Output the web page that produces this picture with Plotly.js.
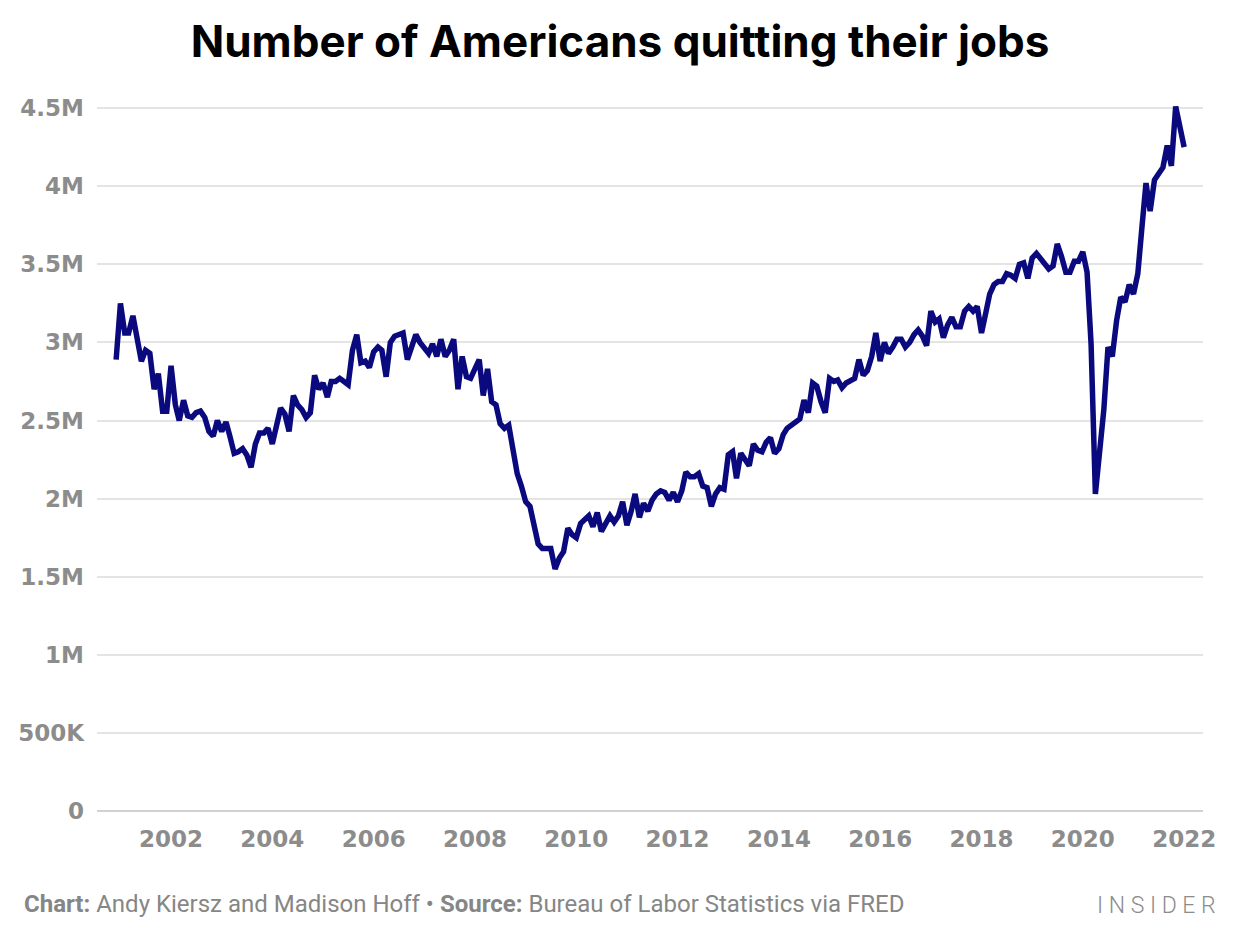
<!DOCTYPE html>
<html>
<head>
<meta charset="utf-8">
<script src="https://cdn.plot.ly/plotly-3.0.1.min.js"></script>
<style>
  html, body { margin: 0; padding: 0; background: #fff; }
  #chart { width: 1240px; height: 940px; }
</style>
</head>
<body>
<div id="chart"></div>
<script>
// === DATA ===
// monthly quits, seasonally adjusted, millions (Dec 2000 .. Jan 2022)
const startYear = 2000;
const startMonth = 12;
const quits = [
  2.89,                                                                   // 2000
  3.25, 3.06, 3.06, 3.17, 3.00, 2.88, 2.95, 2.93, 2.70, 2.80, 2.56, 2.56, // 2001
  2.85, 2.60, 2.50, 2.63, 2.53, 2.52, 2.55, 2.56, 2.52, 2.43, 2.40, 2.50, // 2002
  2.43, 2.49, 2.40, 2.29, 2.30, 2.32, 2.28, 2.20, 2.35, 2.42, 2.42, 2.45, // 2003
  2.35, 2.46, 2.58, 2.54, 2.43, 2.66, 2.60, 2.57, 2.52, 2.55, 2.79, 2.70, // 2004
  2.74, 2.65, 2.75, 2.75, 2.77, 2.75, 2.73, 2.95, 3.05, 2.87, 2.88, 2.84, // 2005
  2.94, 2.97, 2.95, 2.78, 3.00, 3.04, 3.05, 3.06, 2.89, 2.97, 3.05, 3.00, // 2006
  2.97, 2.93, 2.99, 2.91, 3.02, 2.91, 2.95, 3.02, 2.70, 2.91, 2.78, 2.77, // 2007
  2.83, 2.89, 2.66, 2.83, 2.62, 2.60, 2.48, 2.45, 2.47, 2.33, 2.16, 2.08, // 2008
  1.98, 1.95, 1.83, 1.71, 1.68, 1.68, 1.68, 1.55, 1.62, 1.66, 1.81, 1.77, // 2009
  1.75, 1.84, 1.86, 1.89, 1.82, 1.91, 1.79, 1.84, 1.89, 1.85, 1.89, 1.98, // 2010
  1.83, 1.92, 2.03, 1.88, 1.97, 1.92, 1.99, 2.03, 2.05, 2.04, 1.99, 2.04, // 2011
  1.98, 2.05, 2.17, 2.14, 2.14, 2.16, 2.08, 2.07, 1.95, 2.03, 2.07, 2.06, // 2012
  2.28, 2.30, 2.13, 2.29, 2.25, 2.21, 2.35, 2.31, 2.30, 2.36, 2.39, 2.29, // 2013
  2.32, 2.41, 2.45, 2.47, 2.48, 2.51, 2.63, 2.55, 2.74, 2.72, 2.62, 2.55, // 2014
  2.77, 2.75, 2.76, 2.71, 2.74, 2.76, 2.77, 2.89, 2.79, 2.82, 2.91, 3.06, // 2015
  2.88, 3.00, 2.93, 2.97, 3.02, 3.02, 2.97, 3.00, 3.05, 3.08, 3.04, 2.98, // 2016
  3.20, 3.13, 3.15, 3.03, 3.11, 3.16, 3.10, 3.10, 3.20, 3.23, 3.20, 3.23, // 2017
  3.06, 3.19, 3.31, 3.37, 3.39, 3.39, 3.44, 3.43, 3.41, 3.50, 3.51, 3.41, // 2018
  3.54, 3.57, 3.54, 3.51, 3.47, 3.49, 3.63, 3.55, 3.45, 3.45, 3.52, 3.52, // 2019
  3.58, 3.45, 2.99, 2.03, 2.27, 2.57, 2.97, 2.91, 3.14, 3.29, 3.26, 3.37, // 2020
  3.31, 3.44, 3.72, 4.02, 3.84, 4.04, 4.08, 4.12, 4.26, 4.13, 4.51, 4.38, // 2021
  4.25                                                                    // 2022
];

const yTickVals = [0, 0.5, 1, 1.5, 2, 2.5, 3, 3.5, 4, 4.5];
const yTickText = ["0", "500K", "1M", "1.5M", "2M", "2.5M", "3M", "3.5M", "4M", "4.5M"];

// month labels from the start month
const months = quits.map((_, i) => {
  const m = startMonth - 1 + i;
  const y = startYear + Math.floor(m / 12);
  const mm = String((m % 12) + 1).padStart(2, "0");
  return `${y}-${mm}-01`;
});

// === PLOT ===
const tickFont = { family: "DejaVu Sans", size: 23, color: "#8c8c8c", weight: 700 };

const trace = {
  x: months,
  y: quits,
  type: "scatter",
  mode: "lines",
  line: { color: "#0a0a7e", width: 5.5, shape: "linear" },
  cliponaxis: false,
  hoverinfo: "skip"
};

const layout = {
  width: 1240,
  height: 940,
  margin: { l: 97, r: 37, t: 100, b: 129 },
  paper_bgcolor: "#ffffff",
  plot_bgcolor: "#ffffff",
  showlegend: false,
  title: {
    text: "Number of Americans quitting their jobs",
    font: { family: "Inter", size: 44, color: "#000000", weight: 700 },
    x: 0.5,
    xanchor: "center",
    xref: "container",
    y: 1 - 42 / 940,
    yref: "container",
    yanchor: "middle"
  },
  xaxis: {
    type: "date",
    range: ["2000-07-16", "2022-05-17"],
    tick0: "2002-01-01",
    dtick: "M24",
    tickformat: "%Y",
    showgrid: false,
    zeroline: false,
    showline: false,
    ticks: "",
    ticklabelstandoff: 12,
    tickfont: tickFont,
    fixedrange: true
  },
  yaxis: {
    range: [0, 4.552],
    tickvals: yTickVals,
    ticktext: yTickText,
    showgrid: true,
    gridcolor: "#e4e4e4",
    gridwidth: 2,
    zeroline: true,
    zerolinecolor: "#d2d2d2",
    zerolinewidth: 2,
    showline: false,
    ticks: "",
    ticklabelstandoff: 12,
    tickfont: tickFont,
    fixedrange: true
  },
  annotations: [
    {
      text: "<b>Chart:</b> Andy Kiersz and Madison Hoff • <b>Source:</b> Bureau of Labor Statistics via FRED",
      xref: "paper", yref: "paper",
      x: (22 - 97) / 1106, y: (811 - 904) / 711,
      xanchor: "left", yanchor: "middle",
      showarrow: false,
      font: { family: "Roboto", size: 24, color: "#868686" }
    },
    {
      text: "I N S I D E R",
      xref: "paper", yref: "paper",
      x: (1218 - 97) / 1106, y: (811 - 905) / 711,
      xanchor: "right", yanchor: "middle",
      showarrow: false,
      font: { family: "Roboto", size: 23, color: "#8c8c8c", weight: 300 }
    }
  ]
};

Plotly.newPlot("chart", [trace], layout, { staticPlot: true, displayModeBar: false });
</script>
</body>
</html>
